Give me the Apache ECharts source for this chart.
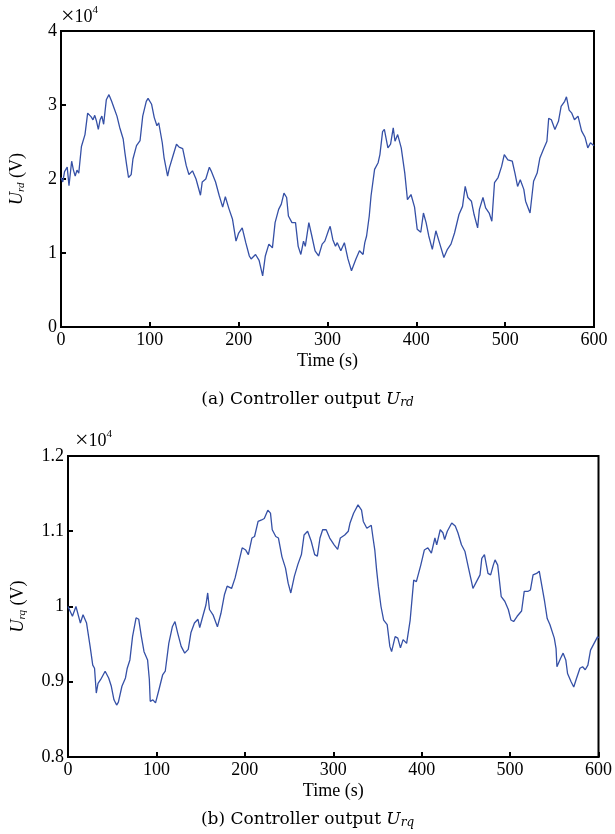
<!DOCTYPE html>
<html>
<head>
<meta charset="utf-8">
<script src="https://cdn.jsdelivr.net/npm/echarts@6/dist/echarts.min.js"></script>
<style>
  html, body { margin: 0; padding: 0; background: #fff; }
  #main { width: 615px; height: 834px; }
</style>
</head>
<body>
<div id="main"></div>
<script>
// values in units of 1e4 V
const urdPoints = [
  [0,2.02],[2,1.96],[4,2.10],[7,2.16],[9,1.91],[12,2.24],[14,2.12],[16,2.04],[18,2.12],[20,2.08],
  [23,2.44],[27,2.60],[30,2.89],[32,2.91],[34,2.84],[36,2.80],[38,2.86],[40,2.78],[42,2.67],[44,2.80],
  [46,2.85],[48,2.74],[51,3.07],[54,3.14],[57,3.05],[60,2.95],[63,2.85],[66,2.70],[70,2.54],[72,2.35],
  [74,2.18],[76,2.02],[79,2.06],[81,2.27],[85,2.45],[89,2.52],[92,2.85],[96,3.05],[98,3.09],[102,3.01],
  [105,2.83],[108,2.72],[110,2.76],[114,2.49],[116,2.29],[120,2.04],[122,2.15],[126,2.31],[130,2.47],[133,2.43],
  [137,2.41],[141,2.18],[144,2.06],[148,2.11],[152,2.00],[157,1.78],[159,1.96],[163,2.00],[167,2.16],[169,2.11],
  [174,1.96],[178,1.78],[182,1.62],[185,1.76],[189,1.60],[193,1.46],[197,1.16],[200,1.27],[204,1.34],[208,1.14],
  [212,0.96],[214,0.92],[219,0.98],[223,0.90],[227,0.69],[230,0.96],[234,1.12],[238,1.07],[241,1.41],[245,1.59],
  [248,1.66],[251,1.81],[254,1.75],[256,1.50],[260,1.41],[264,1.41],[267,1.09],[270,0.98],[273,1.16],[275,1.09],
  [279,1.41],[282,1.25],[286,1.03],[290,0.96],[294,1.12],[297,1.16],[301,1.30],[303,1.36],[306,1.18],[309,1.09],
  [311,1.14],[315,1.03],[319,1.14],[323,0.92],[327,0.76],[329,0.74],[332,0.92],[336,1.03],[340,0.98],[342,1.14],
  [344,1.23],[347,1.50],[349,1.77],[353,2.13],[357,2.22],[359,2.33],[362,2.64],[364,2.67],[368,2.42],[371,2.47],
  [374,2.69],[376,2.51],[379,2.60],[383,2.42],[387,2.08],[390,1.72],[394,1.79],[398,1.62],[401,1.32],[405,1.28],
  [408,1.54],[411,1.41],[414,1.23],[418,1.05],[422,1.30],[426,1.14],[431,0.94],[435,1.05],[439,1.12],[443,1.27],
  [448,1.52],[452,1.63],[455,1.90],[458,1.75],[462,1.70],[465,1.52],[469,1.34],[471,1.59],[475,1.75],[478,1.61],
  [482,1.54],[485,1.43],[488,1.95],[492,2.02],[496,2.17],[499,2.33],[503,2.26],[508,2.24],[511,2.08],[514,1.90],
  [517,1.99],[521,1.86],[523,1.70],[528,1.54],[532,1.97],[536,2.08],[539,2.28],[543,2.40],[547,2.51],[549,2.82],
  [552,2.80],[556,2.67],[560,2.78],[563,2.98],[567,3.05],[569,3.11],[572,2.93],[575,2.89],[578,2.80],[582,2.85],
  [586,2.65],[590,2.56],[593,2.42],[596,2.49],[600,2.45]
];

const urqPoints = [
  [0,1.000],[2,1.000],[5,0.987],[9,1.000],[14,0.978],[17,0.989],[21,0.978],[25,0.947],[28,0.922],[30,0.918],
  [32,0.885],[34,0.898],[37,0.903],[42,0.914],[46,0.905],[49,0.894],[52,0.876],[55,0.869],[57,0.873],[61,0.894],
  [65,0.905],[67,0.918],[70,0.929],[73,0.960],[77,0.985],[80,0.983],[83,0.960],[86,0.940],[90,0.929],[92,0.903],
  [93,0.874],[96,0.876],[99,0.872],[103,0.890],[107,0.909],[110,0.914],[114,0.951],[118,0.973],[121,0.980],[124,0.965],
  [128,0.947],[132,0.938],[136,0.943],[139,0.965],[143,0.978],[147,0.983],[149,0.972],[152,0.985],[156,1.002],[158,1.018],
  [160,0.996],[164,0.989],[169,0.973],[173,0.991],[177,1.016],[180,1.027],[185,1.024],[189,1.038],[193,1.058],[197,1.078],
  [201,1.075],[204,1.069],[208,1.091],[211,1.093],[215,1.113],[219,1.115],[222,1.117],[226,1.128],[229,1.124],[231,1.102],
  [235,1.093],[238,1.091],[242,1.066],[246,1.051],[249,1.031],[252,1.018],[256,1.040],[260,1.056],[264,1.069],[267,1.095],
  [271,1.100],[275,1.087],[279,1.069],[282,1.067],[285,1.091],[288,1.102],[292,1.102],[296,1.091],[301,1.082],[305,1.076],
  [308,1.091],[313,1.095],[317,1.100],[319,1.111],[323,1.124],[328,1.135],[332,1.128],[334,1.113],[338,1.104],[343,1.108],
  [345,1.091],[347,1.075],[349,1.049],[351,1.027],[354,1.000],[357,0.982],[361,0.976],[364,0.947],[366,0.940],[370,0.960],
  [373,0.958],[376,0.945],[379,0.956],[383,0.951],[387,0.982],[391,1.035],[394,1.033],[399,1.055],[403,1.075],[407,1.078],
  [411,1.071],[415,1.091],[417,1.082],[421,1.102],[424,1.098],[426,1.089],[429,1.100],[434,1.111],[438,1.107],[441,1.098],
  [445,1.082],[449,1.073],[453,1.051],[456,1.035],[458,1.024],[462,1.033],[466,1.042],[468,1.064],[471,1.069],[475,1.044],
  [478,1.042],[481,1.055],[483,1.062],[486,1.055],[490,1.013],[494,1.007],[498,0.996],[501,0.982],[504,0.980],[508,0.987],
  [513,0.994],[516,1.020],[520,1.020],[523,1.022],[526,1.042],[530,1.044],[533,1.047],[536,1.027],[539,1.007],[542,0.984],
  [545,0.976],[547,0.976],[550,0.958],[552,0.944],[553,0.920],[557,0.931],[560,0.938],[563,0.929],[565,0.911],[569,0.900],
  [572,0.893],[575,0.904],[579,0.918],[582,0.920],[585,0.916],[588,0.922],[591,0.942],[595,0.951],[599,0.960],[600,0.958]
];

const xTicks = { min: 0, max: 600, interval: 100 };
const yTicksRd = { min: 0, max: 4, interval: 1 };
const yTicksRq = { min: 0.8, max: 1.2, interval: 0.1 };

const font = 'Liberation Serif';
const capFont = 'DejaVu Serif';
const lineColor = '#3550a6';

const chart = echarts.init(document.getElementById('main'));

function xAxisOf(gridIndex) {
  return {
    type: 'value',
    gridIndex: gridIndex,
    min: xTicks.min, max: xTicks.max, interval: xTicks.interval,
    name: 'Time (s)',
    nameLocation: 'middle',
    nameGap: 25,
    nameTextStyle: { fontFamily: font, fontSize: 18, color: '#000' },
    axisLine: { show: true, lineStyle: { color: '#000', width: 2 } },
    axisTick: { show: true, inside: true, length: 5, lineStyle: { color: '#000', width: 2 } },
    axisLabel: { fontFamily: font, fontSize: 18, color: '#000', margin: 4 },
    splitLine: { show: false }
  };
}

function yAxisOf(gridIndex, ticks, sub, gap) {
  return {
    type: 'value',
    gridIndex: gridIndex,
    min: ticks.min, max: ticks.max, interval: ticks.interval,
    name: '{u|U}{s|' + sub + '} {n|(V)}',
    nameLocation: 'middle',
    nameRotate: 90,
    nameGap: gap,
    nameTextStyle: {
      fontFamily: font, fontSize: 18, color: '#000',
      rich: {
        u: { fontFamily: font, fontSize: 18, fontStyle: 'italic', color: '#000', lineHeight: 20 },
        s: { fontFamily: font, fontSize: 11, fontStyle: 'italic', color: '#000', verticalAlign: 'bottom', padding: [6, 0, 0, 0] },
        n: { fontFamily: font, fontSize: 18, color: '#000' }
      }
    },
    axisLine: { show: true, lineStyle: { color: '#000', width: 2 } },
    axisTick: { show: true, inside: true, length: 5, lineStyle: { color: '#000', width: 2 } },
    axisLabel: {
      fontFamily: font, fontSize: 18, color: '#000', margin: 4,
      formatter: function (v) { return String(parseFloat(v.toFixed(1))); }
    },
    splitLine: { show: false }
  };
}

const option = {
  animation: false,
  backgroundColor: '#fff',
  grid: [
    { left: 59, top: 31, width: 535, height: 296, show: true, borderColor: '#000', borderWidth: 2, backgroundColor: 'transparent' },
    { left: 68, top: 456, width: 533, height: 301, show: true, borderColor: '#000', borderWidth: 2, backgroundColor: 'transparent' }
  ],
  xAxis: [xAxisOf(0), xAxisOf(1)],
  yAxis: [
    yAxisOf(0, yTicksRd, 'rd', 34),
    yAxisOf(1, yTicksRq, 'rq', 40)
  ],
  series: [
    {
      type: 'line', xAxisIndex: 0, yAxisIndex: 0, data: urdPoints,
      showSymbol: false, lineStyle: { color: lineColor, width: 1.3 }
    },
    {
      type: 'line', xAxisIndex: 1, yAxisIndex: 1, data: urqPoints,
      showSymbol: false, lineStyle: { color: lineColor, width: 1.3 }
    }
  ],
  graphic: [
    {
      type: 'text', left: 61, top: 5,
      style: {
        text: '{x|×}10{p|4}', fontFamily: font, fontSize: 18, fill: '#000',
        rich: {
          x: { fontFamily: font, fontSize: 24, fill: '#000' },
          p: { fontFamily: font, fontSize: 11, fill: '#000', verticalAlign: 'top', padding: [0, 0, 8, 0] }
        }
      }
    },
    {
      type: 'text', left: 75, top: 429,
      style: {
        text: '{x|×}10{p|4}', fontFamily: font, fontSize: 18, fill: '#000',
        rich: {
          x: { fontFamily: font, fontSize: 24, fill: '#000' },
          p: { fontFamily: font, fontSize: 11, fill: '#000', verticalAlign: 'top', padding: [0, 0, 8, 0] }
        }
      }
    },
    {
      type: 'text', left: 'center', top: 391,
      style: {
        text: '(a) Controller output {u|U}{s|rd}', fontFamily: capFont, fontSize: 17, fill: '#000',
        rich: {
          u: { fontFamily: capFont, fontSize: 17, fontStyle: 'italic', fill: '#000' },
          s: { fontFamily: capFont, fontSize: 12, fontStyle: 'italic', fill: '#000', verticalAlign: 'bottom', padding: [6, 0, 0, 0] }
        }
      }
    },
    {
      type: 'text', left: 'center', top: 811,
      style: {
        text: '(b) Controller output {u|U}{s|rq}', fontFamily: capFont, fontSize: 17, fill: '#000',
        rich: {
          u: { fontFamily: capFont, fontSize: 17, fontStyle: 'italic', fill: '#000' },
          s: { fontFamily: capFont, fontSize: 12, fontStyle: 'italic', fill: '#000', verticalAlign: 'bottom', padding: [6, 0, 0, 0] }
        }
      }
    }
  ]
};

chart.setOption(option);
</script>
</body>
</html>
